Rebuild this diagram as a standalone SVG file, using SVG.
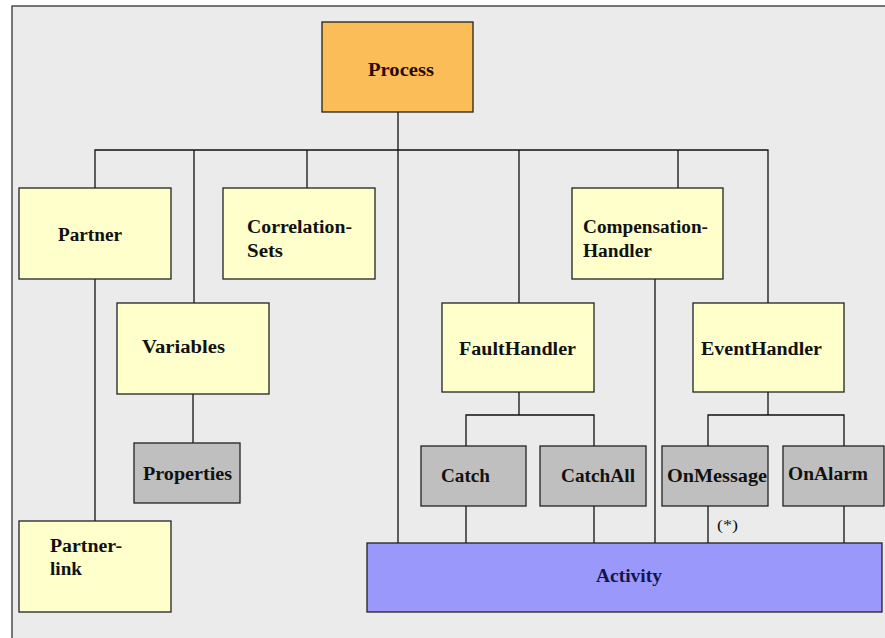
<svg xmlns="http://www.w3.org/2000/svg" width="885" height="638" viewBox="0 0 885 638">
  <style>
    .frame { fill: #ebebeb; stroke: #333; stroke-width: 1.3; }
    .box { stroke: #222; stroke-width: 1.3; }
    .yellow { fill: #ffffcc; }
    .grey { fill: #bfbfbf; }
    .orange { fill: #fabd58; }
    .blue { fill: #9a98fb; }
    .wire { fill: none; stroke: #111; stroke-width: 1.3; }
    .lbl { font-weight: bold; font-size: 18px; fill: #111; }
    .note { font-size: 15px; fill: #111; }
  </style>

  <!-- page background and frame -->
  <rect x="0" y="0" width="885" height="638" fill="#ffffff"/>
  <rect class="frame" x="12" y="6" width="900" height="660"/>

  <!-- connectors -->
  <g id="connectors">
    <path class="wire" d="M398 112 V543"/>
    <path class="wire" d="M95 188 V150 H768 V303"/>
    <path class="wire" d="M194 150 V303"/>
    <path class="wire" d="M307 150 V188"/>
    <path class="wire" d="M519 150 V303"/>
    <path class="wire" d="M678 150 V188"/>
    <path class="wire" d="M95 279 V521"/>
    <path class="wire" d="M193 394 V443"/>
    <path class="wire" d="M655 279 V543"/>
    <path class="wire" d="M519 392 V415"/>
    <path class="wire" d="M466 446 V415 H594 V446"/>
    <path class="wire" d="M768 392 V415"/>
    <path class="wire" d="M708 446 V415 H844 V446"/>
    <path class="wire" d="M466 506 V543"/>
    <path class="wire" d="M594 506 V543"/>
    <path class="wire" d="M708 506 V543"/>
    <path class="wire" d="M844 506 V543"/>
  </g>

  <g font-family="'Liberation Serif', 'Times New Roman', serif">
  <g id="process">
    <rect class="box orange" x="322" y="22" width="151" height="90"/>
    <text class="lbl" x="368" y="76" textLength="66" lengthAdjust="spacingAndGlyphs" style="fill:#2a0a0a">Process</text>
  </g>

  <g id="partner">
    <rect class="box yellow" x="19" y="188" width="152" height="91"/>
    <text class="lbl" x="58" y="241" textLength="64" lengthAdjust="spacingAndGlyphs">Partner</text>
  </g>

  <g id="correlation-sets">
    <rect class="box yellow" x="223" y="188" width="152" height="91"/>
    <text class="lbl" x="247" y="233" textLength="105" lengthAdjust="spacingAndGlyphs">Correlation-</text>
    <text class="lbl" x="247" y="257" textLength="36" lengthAdjust="spacingAndGlyphs">Sets</text>
  </g>

  <g id="compensation-handler">
    <rect class="box yellow" x="572" y="188" width="151" height="91"/>
    <text class="lbl" x="583" y="233" textLength="125" lengthAdjust="spacingAndGlyphs">Compensation-</text>
    <text class="lbl" x="583" y="257" textLength="69" lengthAdjust="spacingAndGlyphs">Handler</text>
  </g>

  <g id="variables">
    <rect class="box yellow" x="117" y="303" width="152" height="91"/>
    <text class="lbl" x="142" y="353" textLength="83" lengthAdjust="spacingAndGlyphs">Variables</text>
  </g>

  <g id="fault-handler">
    <rect class="box yellow" x="442" y="303" width="152" height="89"/>
    <text class="lbl" x="459" y="355" textLength="117" lengthAdjust="spacingAndGlyphs">FaultHandler</text>
  </g>

  <g id="event-handler">
    <rect class="box yellow" x="693" y="303" width="151" height="89"/>
    <text class="lbl" x="701" y="355" textLength="121" lengthAdjust="spacingAndGlyphs">EventHandler</text>
  </g>

  <g id="properties">
    <rect class="box grey" x="134" y="443" width="106" height="60"/>
    <text class="lbl" x="143" y="480" textLength="89" lengthAdjust="spacingAndGlyphs">Properties</text>
  </g>

  <g id="catch">
    <rect class="box grey" x="421" y="446" width="105" height="60"/>
    <text class="lbl" x="441" y="482" textLength="49" lengthAdjust="spacingAndGlyphs">Catch</text>
  </g>

  <g id="catch-all">
    <rect class="box grey" x="540" y="446" width="106" height="60"/>
    <text class="lbl" x="561" y="482" textLength="74" lengthAdjust="spacingAndGlyphs">CatchAll</text>
  </g>

  <g id="on-message">
    <rect class="box grey" x="662" y="446" width="106" height="60"/>
    <text class="lbl" x="667" y="482" textLength="100" lengthAdjust="spacingAndGlyphs">OnMessage</text>
  </g>

  <g id="on-alarm">
    <rect class="box grey" x="783" y="446" width="101" height="60"/>
    <text class="lbl" x="788" y="480" textLength="80" lengthAdjust="spacingAndGlyphs">OnAlarm</text>
  </g>

  <text class="note" x="717" y="530" textLength="21" lengthAdjust="spacingAndGlyphs">(*)</text>

  <g id="partner-link">
    <rect class="box yellow" x="19" y="521" width="152" height="91"/>
    <text class="lbl" x="50" y="552" textLength="72" lengthAdjust="spacingAndGlyphs">Partner-</text>
    <text class="lbl" x="50" y="575" textLength="32" lengthAdjust="spacingAndGlyphs">link</text>
  </g>

  <g id="activity">
    <rect class="box blue" x="367" y="543" width="515" height="69"/>
    <text class="lbl" x="596" y="582" textLength="66" lengthAdjust="spacingAndGlyphs" style="fill:#14144a">Activity</text>
  </g>
  </g>
</svg>
